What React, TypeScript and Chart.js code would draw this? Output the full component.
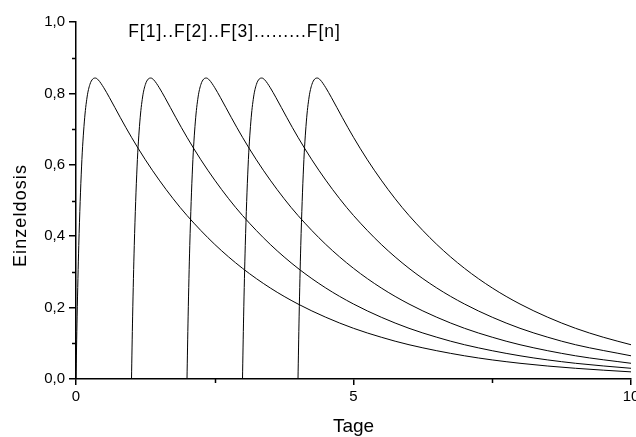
import React, { useEffect, useRef } from 'react';
import { Chart, registerables } from 'chart.js';

Chart.register(...registerables);

// ---- data ----
const doseDays = [0, 1, 2, 3, 4];
// single-dose profile: days after the dose -> Einzeldosis
const profileDays = [0, 0.02, 0.05, 0.1, 0.15, 0.2, 0.25, 0.3, 0.35, 0.4, 0.5, 0.6, 0.8, 1, 1.25, 1.5, 1.75, 2, 2.5, 3, 3.5, 4, 4.5, 5, 5.5, 6, 7, 8, 9, 10];
const profileValues = [0, 0.174, 0.374, 0.594, 0.72, 0.79, 0.825, 0.84, 0.843, 0.838, 0.816, 0.789, 0.732, 0.677, 0.614, 0.557, 0.505, 0.458, 0.377, 0.31, 0.255, 0.21, 0.173, 0.142, 0.117, 0.096, 0.065, 0.044, 0.03, 0.02];

const xMajorTicks = [0, 5, 10];
const xMinorTicks = [2.5, 7.5];
const yMajorTicks = [0, 0.2, 0.4, 0.6, 0.8, 1.0];
const yMinorTicks = [0.1, 0.3, 0.5, 0.7, 0.9];
const xRange = [0, 10];
const yRange = [0, 1];

const xTitle = 'Tage';
const yTitle = 'Einzeldosis';
const noteText = 'F[1]..F[2]..F[3].........F[n]';
const noteAt = { x: 0.94, y: 0.957 };

const FONT = '"Liberation Sans", Arial, Helvetica, sans-serif';

const extrasPlugin = {
  id: 'extras',
  afterDraw(chart: any) {
    const { ctx, chartArea } = chart;
    const xs = chart.scales.x;
    const ys = chart.scales.y;
    ctx.save();
    ctx.strokeStyle = '#000';
    ctx.lineWidth = 1.5;
    ctx.beginPath();
    for (const v of yMinorTicks) {
      const py = Math.round(ys.getPixelForValue(v)) + 0.5;
      ctx.moveTo(chartArea.left - 4, py);
      ctx.lineTo(chartArea.left, py);
    }
    for (const v of xMinorTicks) {
      const px = Math.round(xs.getPixelForValue(v)) + 0.5;
      ctx.moveTo(px, chartArea.bottom);
      ctx.lineTo(px, chartArea.bottom + 4);
    }
    ctx.stroke();

    ctx.fillStyle = '#000';
    (ctx as any).letterSpacing = '1px';
    ctx.font = `17.5px ${FONT}`;
    ctx.textAlign = 'left';
    ctx.textBaseline = 'alphabetic';
    ctx.fillText(noteText, xs.getPixelForValue(noteAt.x), ys.getPixelForValue(noteAt.y));

    (ctx as any).letterSpacing = '1.1px';
    ctx.font = `18px ${FONT}`;
    ctx.translate(26, (chartArea.top + chartArea.bottom) / 2 + 15);
    ctx.rotate(-Math.PI / 2);
    ctx.textAlign = 'center';
    ctx.fillText(yTitle, 0, 0);
    ctx.restore();
  },
};

function zeroPad(s: any) {
  s.paddingTop = 0;
  s.paddingBottom = 0;
  s.paddingLeft = 0;
  s.paddingRight = 0;
}

export default function App() {
  const ref = useRef<HTMLCanvasElement | null>(null);

  useEffect(() => {
    if (!ref.current) return;
    const datasets = doseDays.map((d) => ({
      label: `F[${d + 1}]`,
      data: profileDays
        .map((t, i) => ({ x: d + t, y: profileValues[i] }))
        .filter((p) => p.x <= xRange[1] + 1e-9),
      borderColor: '#000',
      borderWidth: 1,
      pointRadius: 0,
      fill: false,
      cubicInterpolationMode: 'monotone' as const,
    }));

    const chart = new Chart(ref.current, {
      type: 'line',
      data: { datasets },
      options: {
        animation: false,
        responsive: false,
        devicePixelRatio: 1,
        parsing: false,
        layout: { padding: { top: 22, right: 29, left: 0, bottom: 0 } },
        plugins: { legend: { display: false }, tooltip: { enabled: false }, title: { display: false } },
        scales: {
          x: {
            type: 'linear',
            min: xRange[0],
            max: xRange[1],
            afterBuildTicks: (s: any) => {
              s.ticks = xMajorTicks.map((v) => ({ value: v }));
            },
            afterFit: (s: any) => {
              s.height = 58;
              zeroPad(s);
            },
            ticks: {
              color: '#000',
              font: { family: FONT, size: 15 },
              padding: 3,
              maxRotation: 0,
              autoSkip: false,
              callback: (v: any) => String(v),
            },
            grid: { drawOnChartArea: false, drawTicks: true, tickLength: 6, color: '#000', lineWidth: 1.5 },
            border: { display: true, color: '#000', width: 1.5 },
            title: { display: true, text: xTitle, color: '#000', font: { family: FONT, size: 19 }, padding: { top: 0, bottom: -1 } },
          },
          y: {
            type: 'linear',
            min: yRange[0],
            max: yRange[1],
            afterBuildTicks: (s: any) => {
              s.ticks = yMajorTicks.map((v) => ({ value: v }));
            },
            afterFit: (s: any) => {
              s.width = 76;
              zeroPad(s);
            },
            ticks: {
              color: '#000',
              font: { family: FONT, size: 15 },
              padding: 4,
              autoSkip: false,
              callback: (v: any) => Number(v).toFixed(1).replace('.', ','),
            },
            grid: { drawOnChartArea: false, drawTicks: true, tickLength: 7, color: '#000', lineWidth: 1.5 },
            border: { display: true, color: '#000', width: 1.5 },
          },
        },
      },
      plugins: [extrasPlugin],
    });
    return () => chart.destroy();
  }, []);

  return (
    <div style={{ position: 'fixed', left: 0, top: 0, width: 636, height: 437, overflow: 'hidden', background: '#fff' }}>
      <canvas ref={ref} width={660} height={437} style={{ display: 'block' }} />
    </div>
  );
}
